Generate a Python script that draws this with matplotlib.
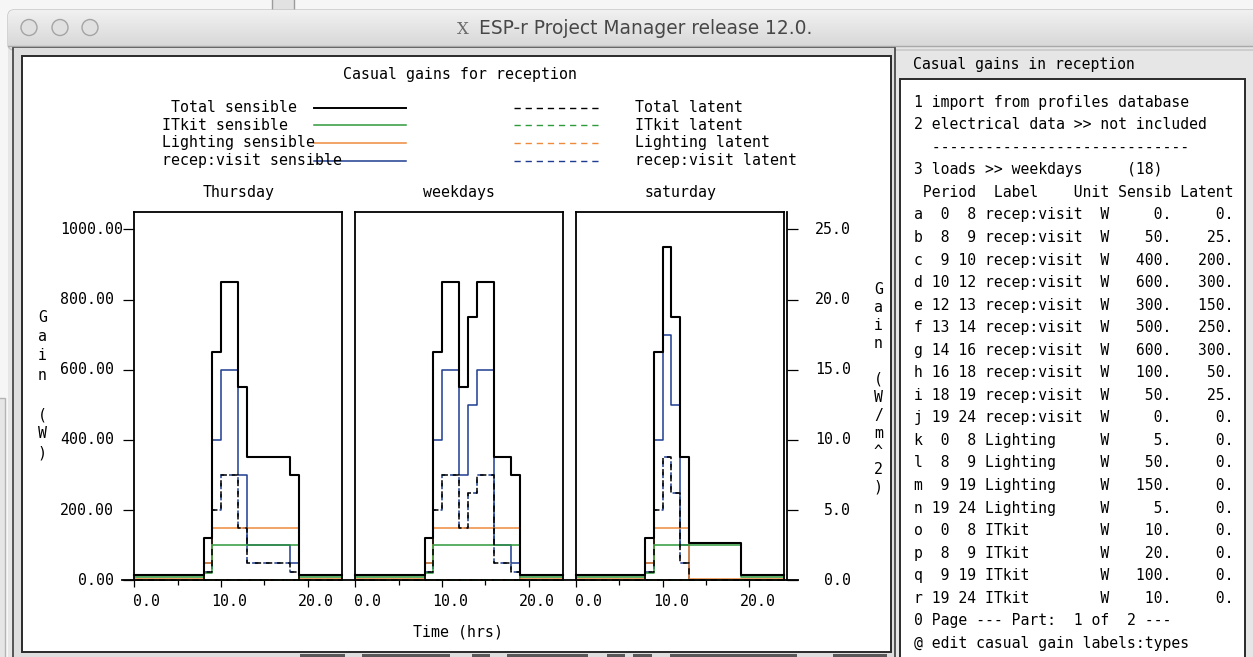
import numpy as np
import matplotlib.pyplot as plt
from matplotlib import transforms
from matplotlib.patches import Rectangle, FancyBboxPatch, Circle
from matplotlib.colors import LinearSegmentedColormap

plt.rcParams['lines.scale_dashes'] = False

W, H = 1253, 657
MONO = 'DejaVu Sans Mono'
CHART_FS = 10.75
MENU_FS = 10.65

# ---- casual gain profiles (W) ----
day_names = ['Thursday', 'weekdays', 'saturday']

thu_visit_hours = [0, 8, 9, 10, 12, 13, 18, 19, 24]
thu_visit_sens = [0, 50, 400, 600, 300, 100, 50, 0]
thu_visit_lat = [0, 25, 200, 300, 150, 50, 25, 0]

wkd_visit_hours = [0, 8, 9, 10, 12, 13, 14, 16, 18, 19, 24]
wkd_visit_sens = [0, 50, 400, 600, 300, 500, 600, 100, 50, 0]
wkd_visit_lat = [0, 25, 200, 300, 150, 250, 300, 50, 25, 0]

sat_visit_hours = [0, 8, 9, 10, 11, 12, 13, 24]
sat_visit_sens = [0, 50, 400, 700, 500, 100, 0]
sat_visit_lat = [0, 25, 200, 350, 250, 50, 0]

light_hours = [0, 8, 9, 19, 24]
light_sens = [5, 50, 150, 5]
sat_light_hours = [0, 8, 9, 13, 24]
sat_light_sens = [5, 50, 150, 5]

itkit_hours = [0, 8, 9, 19, 24]
itkit_sens = [10, 20, 100, 10]

# ---- menu table (weekdays) ----
row_keys = list('abcdefghijklmnopqr')
row_start = [0, 8, 9, 10, 12, 13, 14, 16, 18, 19, 0, 8, 9, 19, 0, 8, 9, 19]
row_end = [8, 9, 10, 12, 13, 14, 16, 18, 19, 24, 8, 9, 19, 24, 8, 9, 19, 24]
row_label = ['recep:visit'] * 10 + ['Lighting'] * 4 + ['ITkit'] * 4
row_sens = [0, 50, 400, 600, 300, 500, 600, 100, 50, 0, 5, 50, 150, 5, 10, 20, 100, 10]
row_lat = [0, 25, 200, 300, 150, 250, 300, 50, 25, 0, 0, 0, 0, 0, 0, 0, 0, 0]

series_names = ['Total', 'ITkit', 'Lighting', 'recep:visit']
series_colors = ['#000000', '#2f9a3c', '#ee8a3a', '#1e3d8f']
y_ticks = [0, 200, 400, 600, 800, 1000]
y2_ticks = [0, 5, 10, 15, 20, 25]
x_ticks = [0, 10, 20]
floor_area = 40.0


def value_at(edges, vals, h):
    return vals[np.searchsorted(edges, h, side='right') - 1]


def step(ax, edges, vals, **kw):
    ax.plot(edges, list(vals) + [vals[-1]], drawstyle='steps-post',
            clip_on=False, **kw)


def px_rect(x0, x1, ytop, ybot):
    return [x0 / W, 1 - ybot / H, (x1 - x0) / W, (ybot - ytop) / H]


fig = plt.figure(figsize=(W / 100, H / 100), dpi=100)
bg = fig.add_axes([0, 0, 1, 1])
bg.axis('off')

# desktop and window chrome
bg.add_patch(Rectangle((0, 0), W, H, fc='#f6f6f6', ec='none'))
bg.add_patch(Rectangle((272, -2), 22, 14, fc='#e2e2e2', ec='#9c9c9c', lw=1))
bg.add_patch(Rectangle((-2, 398), 7, 270, fc='#e6e6e6', ec='#b4b4b4', lw=1))
bg.add_patch(Rectangle((8, 30), W, H, fc='#e6e6e6', ec='none'))
tb = FancyBboxPatch((8, 10), W + 20, 40, boxstyle='round,pad=0,rounding_size=6',
                    fc='#e4e4e4', ec='#c4c4c4', lw=1)
bg.add_patch(tb)
grad = LinearSegmentedColormap.from_list('tb', ['#f1f1f1', '#d8d8d8'])
im = bg.imshow(np.linspace(0, 1, 40)[:, None], cmap=grad, aspect='auto',
               extent=[8, W + 20, 46, 10], clip_path=tb, zorder=1)
bg.plot([8, W], [46, 46], color='#a9a9a9', lw=1, zorder=2)
for cx in [29, 60, 90]:
    bg.add_patch(Circle((cx, 27.5), 8, fc='#e0e0e0', ec='#a4a4a4', lw=1, zorder=3))
bg.text(463, 29, 'X', family='DejaVu Serif', fontsize=12, color='#6a6a6a',
        ha='center', va='center', zorder=3)
bg.text(479, 28, 'ESP-r Project Manager release 12.0.', family='DejaVu Sans',
        fontsize=13.4, color='#474747', ha='left', va='center', zorder=3)

# graphics panel frame
bg.add_patch(Rectangle((13, 47), 895 - 13, 700 - 47, fc='#dedede', ec='#3c3c3c', lw=1.2))
bg.add_patch(Rectangle((22, 56), 891 - 22, 652 - 56, fc='white', ec='#2a2a2a', lw=1.4))
for x0, x1 in [(300, 345), (362, 450), (472, 490), (507, 588), (607, 625),
               (633, 652), (670, 797), (833, 887)]:
    bg.add_patch(Rectangle((x0, 654), x1 - x0, 6, fc='#585858', ec='none'))

# menu panel
bg.text(913, 65, 'Casual gains in reception', family=MONO, fontsize=MENU_FS,
        ha='left', va='center')
bg.add_patch(Rectangle((900, 79.3), 345, 640, fc='white', ec='#2a2a2a', lw=1.4))
menu_lines = ['1 import from profiles database',
              '2 electrical data >> not included',
              '  -----------------------------',
              '3 loads >> weekdays     (18)',
              ' Period  Label    Unit Sensib Latent']
for k, s, e, lab, sv, lv in zip(row_keys, row_start, row_end, row_label, row_sens, row_lat):
    menu_lines.append(f'{k} {s:2d} {e:2d} {lab:<12s} W {str(sv) + ".":>6s} {str(lv) + ".":>6s}')
menu_lines += ['0 Page --- Part:  1 of  2 ---', '@ edit casual gain labels:types']
for i, line in enumerate(menu_lines):
    bg.text(914, 102.3 + i * 22.54, line, family=MONO, fontsize=MENU_FS,
            ha='left', va='center')

# chart titles and legend
txt = dict(family=MONO, fontsize=CHART_FS, color='black')
bg.text(460, 74, 'Casual gains for reception', ha='center', va='center', **txt)
leg_y = [107.7, 125.3, 143.0, 160.7]
for i, (name, col) in enumerate(zip(series_names, series_colors)):
    lab = (' ' if name == 'Total' else '') + name + ' sensible'
    bg.text(162.5, leg_y[i], lab, ha='left', va='center', **txt)
    bg.plot([314, 406], [leg_y[i]] * 2, color=col, lw=1.4 if i == 0 else 1.1)
    bg.plot([514, 600], [leg_y[i]] * 2, color=col, lw=1.0, ls=(0, (4.5, 3.5)))
    bg.text(635, leg_y[i], name + ' latent', ha='left', va='center', **txt)

for i, ch in enumerate('Gain (W)'):
    bg.text(42.3, 317 + i * 19.5, ch, ha='center', va='center', **txt)
for i, ch in enumerate('Gain (W/m^2)'):
    bg.text(878.3, 290 + i * 17.9, ch, ha='center', va='center', **txt)
bg.text(458, 632, 'Time (hrs)', ha='center', va='center', **txt)

y_zero, y_top = 580.3, 211.8
bg.plot([122, 798], [y_zero, y_zero], color='black', lw=1.3)

panel_left = [134.3, 355.2, 576.1]
panel_w = 208
day_visit = [(thu_visit_hours, thu_visit_sens, thu_visit_lat),
             (wkd_visit_hours, wkd_visit_sens, wkd_visit_lat),
             (sat_visit_hours, sat_visit_sens, sat_visit_lat)]
day_light = [(light_hours, light_sens), (light_hours, light_sens),
             (sat_light_hours, sat_light_sens)]
day_itkit = [(itkit_hours, itkit_sens)] * 3

axes = []
for d, name in enumerate(day_names):
    x0 = panel_left[d]
    ax = fig.add_axes(px_rect(x0, x0 + panel_w, y_top, y_zero))
    ax.set_facecolor('none')
    ax.set_xlim(0, 24)
    ax.set_ylim(0, 1050)
    for sp in ax.spines.values():
        sp.set_linewidth(1.3)
    ax.set_xticks([0, 10, 20])
    ax.set_xticks([5, 15], minor=True)
    ax.tick_params(axis='x', which='major', direction='out', length=5, width=0.9,
                   labelbottom=False)
    ax.tick_params(axis='x', which='minor', direction='out', length=3.6, width=0.9)
    if d == 0:
        ax.set_yticks(y_ticks)
        ax.tick_params(axis='y', direction='out', length=8, width=0.9, labelleft=False)
    else:
        ax.set_yticks([])

    vh, vs, vl = day_visit[d]
    lh, ls_ = day_light[d]
    ih, is_ = day_itkit[d]
    edges = sorted(set(vh) | set(lh) | set(ih))
    tot_s = [value_at(vh, vs, h) + value_at(lh, ls_, h) + value_at(ih, is_, h)
             for h in edges[:-1]]
    tot_l = [value_at(vh, vl, h) for h in edges[:-1]]

    step(ax, vh, vs, color=series_colors[3], lw=1.1)
    step(ax, vh, vl, color=series_colors[3], lw=1.1, ls=(0, (4.5, 3.5)))
    step(ax, lh, ls_, color=series_colors[2], lw=1.1)
    step(ax, lh, [0] * len(ls_), color=series_colors[2], lw=1.1, ls=(2, (4.5, 3.5)))
    step(ax, ih, is_, color=series_colors[1], lw=1.1)
    step(ax, ih, [0] * len(is_), color=series_colors[1], lw=1.1, ls=(4, (4.5, 3.5)))
    step(ax, edges, tot_s, color=series_colors[0], lw=1.5)
    step(ax, edges, tot_l, color=series_colors[0], lw=1.1, ls=(6, (4.5, 3.5)))

    bg.text(x0 + panel_w / 2, 192, name, ha='center', va='center', **txt)
    xl_tr = transforms.offset_copy(
        transforms.blended_transform_factory(ax.transData, bg.transData),
        fig=fig, x=26 * 0.72, y=0, units='points')
    for t in x_ticks:
        ax.text(t, 602, f'{t:.1f}', transform=xl_tr, ha='right', va='center', **txt)
    axes.append(ax)

ax_thu, ax_sat = axes[0], axes[2]
yl_tr = transforms.blended_transform_factory(bg.transData, ax_thu.transData)
for v in y_ticks:
    ax_thu.text(60, v, f'{v:6.2f}', transform=yl_tr, ha='left', va='center', **txt)

sec = ax_sat.secondary_yaxis((786.7 - 576.1) / panel_w,
                             functions=(lambda w: w / floor_area, lambda m: m * floor_area))
sec.set_yticks(y2_ticks)
sec.tick_params(axis='y', direction='out', length=8, width=0.9,
                labelright=False, labelleft=False)
for sp in sec.spines.values():
    sp.set_linewidth(1.3)
y2_tr = transforms.blended_transform_factory(bg.transData, ax_sat.transData)
for v in y2_ticks:
    ax_sat.text(851, v * floor_area, f'{v:.1f}', transform=y2_tr, ha='right',
                va='center', **txt)

bg.set_xlim(0, W)
bg.set_ylim(H, 0)
fig.savefig('out.png', dpi=100)
